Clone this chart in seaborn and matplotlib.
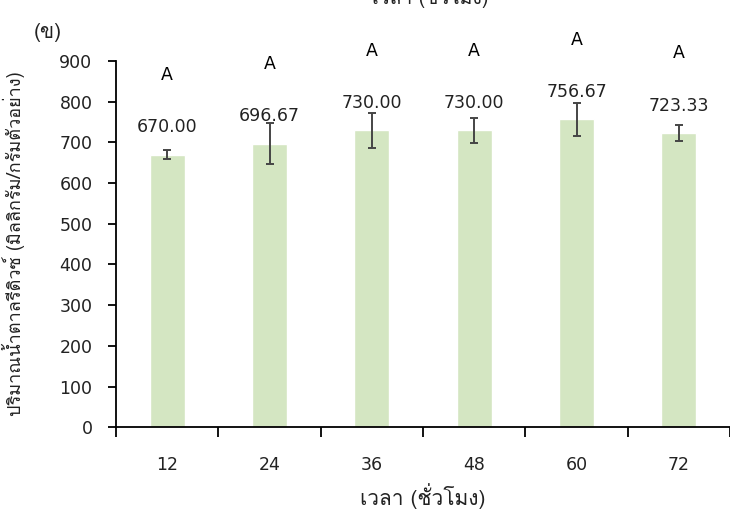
import matplotlib
matplotlib.use("Agg")
import matplotlib.pyplot as plt
import seaborn as sns
import pandas as pd
from matplotlib import font_manager, ft2font

# ข้อมูลจากกราฟ
hours = ["12", "24", "36", "48", "60", "72"]
sugar = [670.00, 696.67, 730.00, 730.00, 756.67, 723.33]
sd = [12, 50, 43, 31, 40, 19]
groups = ["A", "A", "A", "A", "A", "A"]

panel = "(ข)"
top_text = "เวลา (ชั่วโมง)"
xlabel = "เวลา (ชั่วโมง)"
ylabel = "ปริมาณน้ำตาลรีดิวซ์ (มิลลิกรัม/กรัมตัวอย่าง)"

# --- หาฟอนต์ที่มีอักษรไทย
thai_font = None
for f in font_manager.fontManager.ttflist:
    try:
        if 0x0E01 in ft2font.FT2Font(f.fname).get_charmap():
            thai_font = f.name
            break
    except Exception:
        pass
fams = ([thai_font] if thai_font else []) + ["DejaVu Sans"]

sns.set_style("white")
plt.rcParams["font.family"] = ["DejaVu Sans"]

df = pd.DataFrame({"hour": hours, "sugar": sugar})

fig = plt.figure(figsize=(7.3, 5.21), dpi=100)
ax = fig.add_axes([0.159, 0.180, 0.841, 0.703])

sns.barplot(data=df, x="hour", y="sugar", color="#d4e6c2", saturation=1,
            width=0.34, errorbar=None, ax=ax)
ax.errorbar(range(len(hours)), sugar, yerr=sd, fmt="none",
            ecolor="#454545", elinewidth=1.4, capsize=3, capthick=1.4)

for i, v in enumerate(sugar):
    ax.text(i, v + 67, f"{v:.2f}", ha="center", va="center",
            fontsize=12.5, color="#222222")
    ax.text(i, v + 195, groups[i], ha="center", va="center",
            fontsize=12.5, color="black", clip_on=False)

ax.set_xlim(-0.5, len(hours) - 0.5)
ax.set_ylim(0, 900)
ax.set_yticks(range(0, 901, 100))

# --- เส้นแกนแบบ Excel
for s in ["top", "right"]:
    ax.spines[s].set_visible(False)
for s in ["left", "bottom"]:
    ax.spines[s].set_color("black")
    ax.spines[s].set_linewidth(1.3)

ax.tick_params(axis="y", direction="out", length=6, width=1.3,
               color="black", left=True, pad=11, labelsize=12.5,
               labelcolor="#222222")
ax.tick_params(axis="x", which="major", length=0, pad=21, labelsize=12.5,
               labelcolor="#222222")
ax.set_xticks([i - 0.5 for i in range(len(hours) + 1)], minor=True)
ax.tick_params(axis="x", which="minor", direction="out", length=7,
               width=1.3, color="black", bottom=True)

ax.set_xlabel(xlabel, family=fams, fontsize=15, color="#222222", labelpad=6)
ax.set_ylabel(ylabel, family=fams, fontsize=13, color="#222222")
ax.yaxis.set_label_coords(-0.148, 0.5)

fig.text(48 / 730, 1 - 33 / 521, panel, family=fams, fontsize=15,
         ha="center", va="center", color="#222222")
fig.text(430 / 730, 1.008, top_text, family=fams, fontsize=14,
         ha="center", va="center", color="#222222")

fig.savefig("out.png", dpi=100)
